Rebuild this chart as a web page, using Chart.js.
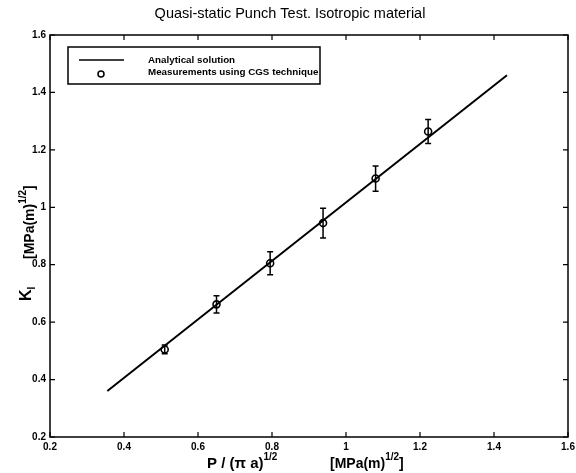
<!DOCTYPE html>
<html>
<head>
<meta charset="utf-8">
<script src="https://cdn.jsdelivr.net/npm/chart.js@4.4.1/dist/chart.umd.min.js"></script>
<style>
  html, body { margin: 0; padding: 0; background: #fff; }
  #wrap { width: 576px; height: 473px; }
</style>
</head>
<body>
<div id="wrap"><canvas id="c" width="576" height="473"></canvas></div>
<script>
const xTicks = [0.2, 0.4, 0.6, 0.8, 1, 1.2, 1.4, 1.6];
const yTicks = [0.2, 0.4, 0.6, 0.8, 1, 1.2, 1.4, 1.6];
// analytical solution (straight line, two end points)
const lineX = [0.355, 1.435];
const lineY = [0.36, 1.46];
// CGS measurements
const loadX = [0.51, 0.65, 0.795, 0.938, 1.08, 1.222];
const kMeas = [0.505, 0.662, 0.805, 0.945, 1.1, 1.264];
const kErr = [0.015, 0.03, 0.04, 0.052, 0.044, 0.042];

const FONT = "'Liberation Sans', Arial, sans-serif";

// text with a superscript / subscript piece
function richText(ctx, parts, x, y) {
  parts.forEach((p) => {
    ctx.font = p.font;
    ctx.fillText(p.t, x, y + (p.dy || 0));
    x += ctx.measureText(p.t).width;
  });
}

const errorBars = {
  id: "errorBars",
  afterDatasetsDraw(chart) {
    const ctx = chart.ctx;
    const xs = chart.scales.x, ys = chart.scales.y;
    ctx.save();
    ctx.strokeStyle = "#000";
    ctx.lineWidth = 1.5;
    loadX.forEach((v, i) => {
      const px = xs.getPixelForValue(v);
      const top = ys.getPixelForValue(kMeas[i] + kErr[i]);
      const bot = ys.getPixelForValue(kMeas[i] - kErr[i]);
      ctx.beginPath();
      ctx.moveTo(px, top); ctx.lineTo(px, bot);
      ctx.moveTo(px - 3, top); ctx.lineTo(px + 3, top);
      ctx.moveTo(px - 3, bot); ctx.lineTo(px + 3, bot);
      ctx.stroke();
    });
    ctx.restore();
  }
};

const decor = {
  id: "decor",
  afterDraw(chart) {
    const ctx = chart.ctx;
    const a = chart.chartArea;
    const xs = chart.scales.x, ys = chart.scales.y;
    ctx.save();
    ctx.strokeStyle = "#000";
    ctx.fillStyle = "#000";
    // frame
    ctx.lineWidth = 1.5;
    ctx.strokeRect(a.left, a.top, a.right - a.left, a.bottom - a.top);
    // inward ticks on all four sides
    ctx.lineWidth = 1.2;
    ctx.beginPath();
    xTicks.forEach((v) => {
      const px = xs.getPixelForValue(v);
      ctx.moveTo(px, a.bottom); ctx.lineTo(px, a.bottom - 5);
      ctx.moveTo(px, a.top); ctx.lineTo(px, a.top + 5);
    });
    yTicks.forEach((v) => {
      const py = ys.getPixelForValue(v);
      ctx.moveTo(a.left, py); ctx.lineTo(a.left + 5, py);
      ctx.moveTo(a.right, py); ctx.lineTo(a.right - 5, py);
    });
    ctx.stroke();

    // title
    ctx.font = "14.5px " + FONT;
    ctx.textAlign = "center";
    ctx.textBaseline = "alphabetic";
    ctx.fillText("Quasi-static Punch Test. Isotropic material", 290, 18);

    // x axis label
    ctx.textAlign = "left";
    richText(ctx, [
      { t: "P / (\u03c0 a)", font: "bold 15px " + FONT },
      { t: "1/2", font: "bold 10px " + FONT, dy: -8 }
    ], 207, 468);
    richText(ctx, [
      { t: "[MPa(m)", font: "bold 14px " + FONT },
      { t: "1/2", font: "bold 10px " + FONT, dy: -8 },
      { t: "]", font: "bold 14px " + FONT }
    ], 330, 468);

    // y axis label (rotated)
    ctx.save();
    ctx.translate(31, 301);
    ctx.rotate(-Math.PI / 2);
    richText(ctx, [
      { t: "K", font: "bold 16px " + FONT },
      { t: "I", font: "bold 10px " + FONT, dy: 4 }
    ], 0, 0);
    ctx.restore();
    ctx.save();
    ctx.translate(34, 259);
    ctx.rotate(-Math.PI / 2);
    richText(ctx, [
      { t: "[MPa(m)", font: "bold 14px " + FONT },
      { t: "1/2", font: "bold 10px " + FONT, dy: -8 },
      { t: "]", font: "bold 14px " + FONT }
    ], 0, 0);
    ctx.restore();

    // legend
    ctx.lineWidth = 1.5;
    ctx.strokeRect(68, 47, 252, 37);
    ctx.beginPath();
    ctx.moveTo(79, 60); ctx.lineTo(124, 60);
    ctx.stroke();
    ctx.beginPath();
    ctx.arc(101, 74, 3, 0, Math.PI * 2);
    ctx.stroke();
    ctx.font = "bold 9.8px " + FONT;
    ctx.fillText("Analytical solution", 148, 63);
    ctx.fillText("Measurements using CGS technique", 148, 75);
    ctx.restore();
  }
};

new Chart(document.getElementById("c"), {
  type: "scatter",
  data: {
    datasets: [
      {
        label: "Analytical solution",
        data: lineX.map((x, i) => ({ x: x, y: lineY[i] })),
        showLine: true,
        borderColor: "#000",
        borderWidth: 2,
        pointRadius: 0
      },
      {
        label: "Measurements using CGS technique",
        data: loadX.map((x, i) => ({ x: x, y: kMeas[i] })),
        showLine: false,
        pointStyle: "circle",
        pointRadius: 3.5,
        borderColor: "#000",
        borderWidth: 1.6,
        backgroundColor: "rgba(0,0,0,0)"
      }
    ]
  },
  options: {
    responsive: false,
    animation: false,
    layout: { padding: { top: 35, right: 8, left: 0, bottom: 0 } },
    plugins: { legend: { display: false }, tooltip: { enabled: false } },
    scales: {
      x: {
        type: "linear",
        min: 0.2,
        max: 1.6,
        afterBuildTicks: (s) => { s.ticks = xTicks.map((v) => ({ value: v })); },
        afterFit: (s) => { s.height = 36; s.paddingRight = 0; },
        grid: { display: false, drawTicks: false },
        border: { display: false },
        ticks: {
          color: "#000",
          font: { family: FONT, size: 10, weight: "bold" },
          padding: 4,
          maxRotation: 0,
          callback: (v) => String(v)
        }
      },
      y: {
        type: "linear",
        min: 0.2,
        max: 1.6,
        afterBuildTicks: (s) => { s.ticks = yTicks.map((v) => ({ value: v })); },
        afterFit: (s) => { s.width = 50; },
        grid: { display: false, drawTicks: false },
        border: { display: false },
        ticks: {
          color: "#000",
          font: { family: FONT, size: 10, weight: "bold" },
          padding: 4,
          callback: (v) => String(v)
        }
      }
    }
  },
  plugins: [errorBars, decor]
});
</script>
</body>
</html>
